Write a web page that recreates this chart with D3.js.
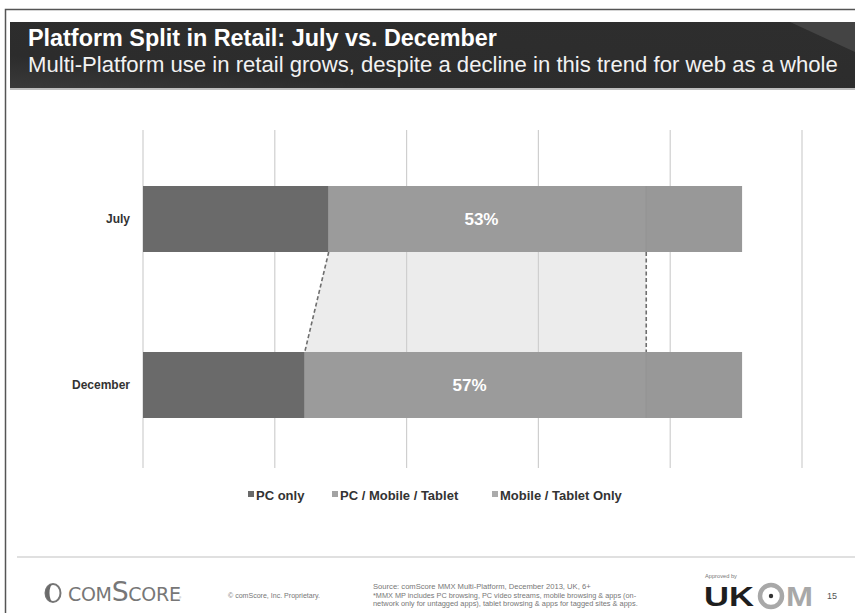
<!DOCTYPE html>
<html>
<head>
<meta charset="utf-8">
<script src="https://cdn.jsdelivr.net/npm/d3@7/dist/d3.min.js"></script>
<style>
  html, body { margin: 0; padding: 0; background: #fff; }
  svg { display: block; }
</style>
</head>
<body>
<script>
// Platform split (% of retail audience), July vs December
const categories = ["July", "December"];
const seriesNames = ["PC only", "PC / Mobile / Tablet", "Mobile / Tablet Only"];
const pcOnly = [31, 27];
const multiPlatform = [53, 57];
const mobileOnly = [16, 16];
const gridTicks = [0, 22, 44, 66, 88, 110];

const W = 855, H = 613;
const font = "'Liberation Sans', Arial, Helvetica, sans-serif";
const colors = ["#6a6a6a", "#9b9b9b", "#989898"];
const legendColors = ["#6a6a6a", "#a3a3a3", "#ababab"];

const svg = d3.select("body").append("svg")
  .attr("width", W).attr("height", H)
  .style("font-family", font);

// fit a text element to a target width by adjusting font size
function fitWidth(sel, target) {
  const n = sel.node();
  const fs = parseFloat(sel.attr("font-size"));
  const w = n.getComputedTextLength();
  sel.attr("font-size", (fs * target / w).toFixed(2));
}
// stretch a text element horizontally to a target width, keeping its height
function stretchWidth(sel, target) {
  const w = sel.node().getComputedTextLength();
  const x0 = +sel.attr("x");
  sel.attr("transform", `translate(${x0},0) scale(${(target / w).toFixed(3)},1) translate(${-x0},0)`);
}

// ---- slide frame ----
svg.append("path")
  .attr("d", `M5.5,${H} V9.5 H${W}`)
  .attr("fill", "none").attr("stroke", "#555").attr("stroke-width", 1.5);

// ---- header band ----
const defs = svg.append("defs");
const hg = defs.append("linearGradient").attr("id", "hdr")
  .attr("x1", "0").attr("y1", "1").attr("x2", "1").attr("y2", "0");
hg.append("stop").attr("offset", "0").attr("stop-color", "#3a3a3a");
hg.append("stop").attr("offset", "0.25").attr("stop-color", "#2c2c2c");
hg.append("stop").attr("offset", "1").attr("stop-color", "#2e2e2e");
svg.append("rect").attr("x", 10).attr("y", 22).attr("width", W - 10).attr("height", 67)
  .attr("fill", "url(#hdr)");
svg.append("path").attr("d", `M790,22 L${W},22 L${W},52 Z`).attr("fill", "#4a4a4a").attr("opacity", 0.8);
svg.append("rect").attr("x", 10).attr("y", 88).attr("width", W - 10).attr("height", 2).attr("fill", "#bdbdbd");

const title = svg.append("text").attr("x", 28).attr("y", 46)
  .attr("font-size", 20).attr("font-weight", "bold").attr("fill", "#fff")
  .text("Platform Split in Retail: July vs. December");
fitWidth(title, 469);
const subtitle = svg.append("text").attr("x", 28).attr("y", 72)
  .attr("font-size", 18).attr("fill", "#f2f2f2")
  .text("Multi-Platform use in retail grows, despite a decline in this trend for web as a whole");
fitWidth(subtitle, 810);

// ---- scales ----
const x = d3.scaleLinear().domain([0, 110]).range([143, 802]);
const y = d3.scalePoint().domain(categories).range([219, 385]);
const barH = 66;

const stacked = categories.map((c, i) => {
  const vals = [pcOnly[i], multiPlatform[i], mobileOnly[i]];
  let acc = 0;
  return vals.map((v, k) => {
    const seg = { cat: c, k, v, x0: acc, x1: acc + v };
    acc += v;
    return seg;
  });
});

// ---- connector band between the multi-platform segments ----
const segA = stacked[0][1], segB = stacked[1][1];
const yA = y(categories[0]) + barH / 2, yB = y(categories[1]) - barH / 2;
svg.append("path")
  .attr("d", `M${x(segA.x0)},${yA} L${x(segA.x1)},${yA} L${x(segB.x1)},${yB} L${x(segB.x0)},${yB} Z`)
  .attr("fill", "#ececec");

// ---- gridlines ----
svg.append("g").selectAll("line").data(gridTicks).join("line")
  .attr("x1", d => x(d)).attr("x2", d => x(d))
  .attr("y1", 130).attr("y2", 468)
  .attr("stroke", "#cfcfcf").attr("stroke-width", 1.2);

// dashed connector edges
[[segA.x0, segB.x0], [segA.x1, segB.x1]].forEach(([a, b]) => {
  svg.append("line")
    .attr("x1", x(a)).attr("y1", yA).attr("x2", x(b)).attr("y2", yB)
    .attr("stroke", "#6e6e6e").attr("stroke-width", 1.6).attr("stroke-dasharray", "4,2.5");
});

// ---- bars ----
const gBars = svg.append("g");
stacked.forEach(row => {
  gBars.selectAll(null).data(row).join("rect")
    .attr("x", d => x(d.x0)).attr("width", d => x(d.x1) - x(d.x0))
    .attr("y", d => y(d.cat) - barH / 2).attr("height", barH)
    .attr("fill", d => colors[d.k]);
  // subtle boundary between the two light segments
  const m = row[2];
  gBars.append("line")
    .attr("x1", x(m.x0)).attr("x2", x(m.x0))
    .attr("y1", y(m.cat) - barH / 2).attr("y2", y(m.cat) + barH / 2)
    .attr("stroke", "#8e8e8e").attr("stroke-width", 1);
});

// value labels on the multi-platform segment
svg.append("g").selectAll("text").data(stacked.map(r => r[1])).join("text")
  .attr("x", d => x((d.x0 + d.x1) / 2) - 6)
  .attr("y", d => y(d.cat) + 6)
  .attr("text-anchor", "middle")
  .attr("font-size", 17).attr("font-weight", "bold").attr("fill", "#fff")
  .text(d => d.v + "%");

// category labels
svg.append("g").selectAll("text").data(categories).join("text")
  .attr("x", 130).attr("y", d => y(d) + 4)
  .attr("text-anchor", "end")
  .attr("font-size", 12).attr("font-weight", "bold").attr("fill", "#333")
  .text(d => d);

// ---- legend ----
const legendX = [248, 332, 492];
const lg = svg.append("g");
seriesNames.forEach((s, i) => {
  lg.append("rect").attr("x", legendX[i]).attr("y", 491).attr("width", 6).attr("height", 6)
    .attr("fill", legendColors[i]);
  lg.append("text").attr("x", legendX[i] + 8).attr("y", 499.5)
    .attr("font-size", 13).attr("font-weight", "bold").attr("fill", "#333")
    .text(s);
});

// ---- footer ----
svg.append("line").attr("x1", 17).attr("x2", W).attr("y1", 557).attr("y2", 557)
  .attr("stroke", "#e0e0e0").attr("stroke-width", 2);

// comScore logo mark
const lx = 53, ly = 593;
svg.append("ellipse").attr("cx", lx).attr("cy", ly).attr("rx", 7.5).attr("ry", 9)
  .attr("fill", "none").attr("stroke", "#777").attr("stroke-width", 2);
svg.append("path")
  .attr("d", `M${lx},${ly - 9} A7.5,9 0 0,0 ${lx},${ly + 9} A3.5,9 0 0,1 ${lx},${ly - 9} Z`)
  .attr("fill", "#6a6a6a");
svg.append("text").attr("x", 68).attr("y", 601)
  .attr("font-family", "'DejaVu Sans', sans-serif")
  .attr("font-size", 23).attr("fill", "#777")
  .style("font-variant", "small-caps").attr("letter-spacing", -0.3)
  .text("comScore").call(s => fitWidth(s, 110));
svg.append("text").attr("x", 179).attr("y", 599).attr("font-size", 3).attr("fill", "#888").text("®");

svg.append("text").attr("x", 228).attr("y", 598)
  .attr("font-size", 6.5).attr("fill", "#777")
  .text("© comScore, Inc.   Proprietary.").call(s => fitWidth(s, 92));

const srcLines = [
  "Source: comScore MMX Multi-Platform, December 2013, UK, 6+",
  "*MMX MP includes PC browsing, PC video streams, mobile browsing & apps (on-",
  "network only for untagged apps), tablet browsing & apps for tagged sites & apps."
];
const srcW = [218, 263, 265];
srcLines.forEach((t, i) => {
  svg.append("text").attr("x", 373).attr("y", 589 + i * 8.5)
    .attr("font-size", 7).attr("fill", "#777").text(t)
    .call(s => fitWidth(s, srcW[i]));
});

// UKOM mark
svg.append("text").attr("x", 705).attr("y", 578).attr("font-size", 6).attr("fill", "#777")
  .text("Approved by").call(s => fitWidth(s, 32));
svg.append("text").attr("x", 704).attr("y", 606)
  .attr("font-size", 27).attr("font-weight", "bold").attr("fill", "#1e1e1e")
  .text("UK").call(s => stretchWidth(s, 50));
svg.append("circle").attr("cx", 771).attr("cy", 596).attr("r", 11)
  .attr("fill", "none").attr("stroke", "#a8a8a8").attr("stroke-width", 4.5);
svg.append("circle").attr("cx", 771).attr("cy", 596).attr("r", 2.2).attr("fill", "#333");
svg.append("text").attr("x", 786).attr("y", 606)
  .attr("font-size", 27).attr("font-weight", "bold").attr("fill", "#a8a8a8")
  .text("M").call(s => stretchWidth(s, 27));
svg.append("text").attr("x", 827).attr("y", 599).attr("font-size", 9).attr("fill", "#555").text("15");
</script>
</body>
</html>
